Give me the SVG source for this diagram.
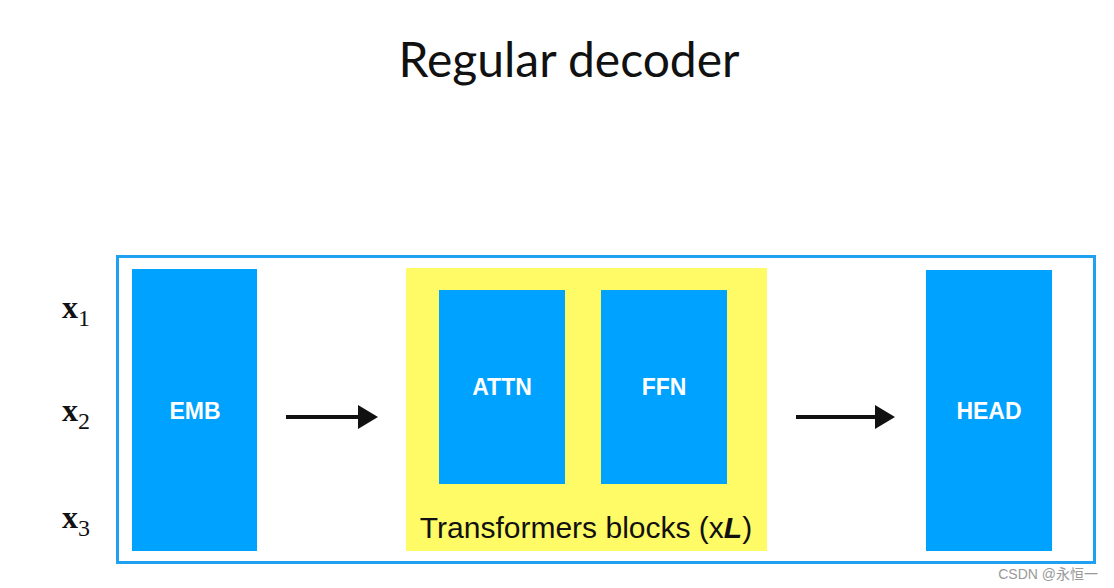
<svg xmlns="http://www.w3.org/2000/svg" width="1114" height="588" viewBox="0 0 1114 588">
<defs>
<style>
.blk{fill:#00a2ff}
.lbl{font-family:"Liberation Sans",Arial,sans-serif;font-size:23px;font-weight:bold;fill:#fff;text-anchor:middle}
.xv{font-family:"Liberation Serif","Times New Roman",serif;font-size:32px;font-weight:bold;fill:#111}
.xs{font-family:"Liberation Serif","Times New Roman",serif;font-size:24px;font-weight:normal;fill:#111}
.arr{stroke:#111;stroke-width:4;fill:none}
</style>
<marker id="ah" markerWidth="5" markerHeight="6" refX="1" refY="3" orient="auto" markerUnits="strokeWidth">
<path d="M0,0 L5,3 L0,6 z" fill="#111"/>
</marker>
</defs>
<rect width="1114" height="588" fill="#fff"/>
<text x="569" y="77" text-anchor="middle" font-family="Lato,'Open Sans',sans-serif" font-size="48" fill="#111">Regular decoder</text>
<rect id="frame" x="117.5" y="256.5" width="977" height="306" fill="none" stroke="#1fa0f0" stroke-width="3"/>
<g id="inputs">
<text class="xv" x="62" y="318">x<tspan class="xs" dy="8">1</tspan></text>
<text class="xv" x="62" y="421">x<tspan class="xs" dy="8">2</tspan></text>
<text class="xv" x="62" y="528">x<tspan class="xs" dy="8">3</tspan></text>
</g>
<g id="emb"><rect class="blk" x="132" y="269" width="125" height="282"/><text class="lbl" x="195" y="419">EMB</text></g>
<g id="transformer">
<rect x="406" y="268" width="361" height="283" fill="#fffb66"/>
<text x="586" y="538" text-anchor="middle" font-family="'Liberation Sans',Arial,sans-serif" font-size="30" fill="#111">Transformers blocks (x<tspan font-weight="bold" font-style="italic">L</tspan>)</text>
</g>
<g id="attn"><rect class="blk" x="439" y="290" width="126" height="194"/><text class="lbl" x="502" y="395">ATTN</text></g>
<g id="ffn"><rect class="blk" x="601" y="290" width="126" height="194"/><text class="lbl" x="664" y="395">FFN</text></g>
<g id="head"><rect class="blk" x="926" y="270" width="126" height="281"/><text class="lbl" x="989" y="419">HEAD</text></g>
<g id="connectors">
<line class="arr" x1="286" y1="417" x2="362" y2="417" marker-end="url(#ah)"/>
<line class="arr" x1="796" y1="417" x2="879" y2="417" marker-end="url(#ah)"/>
</g>
<text x="1098" y="579" text-anchor="end" font-family="'Liberation Sans','Noto Sans CJK SC',sans-serif" font-size="14" fill="#999">CSDN @永恒一</text>
</svg>
